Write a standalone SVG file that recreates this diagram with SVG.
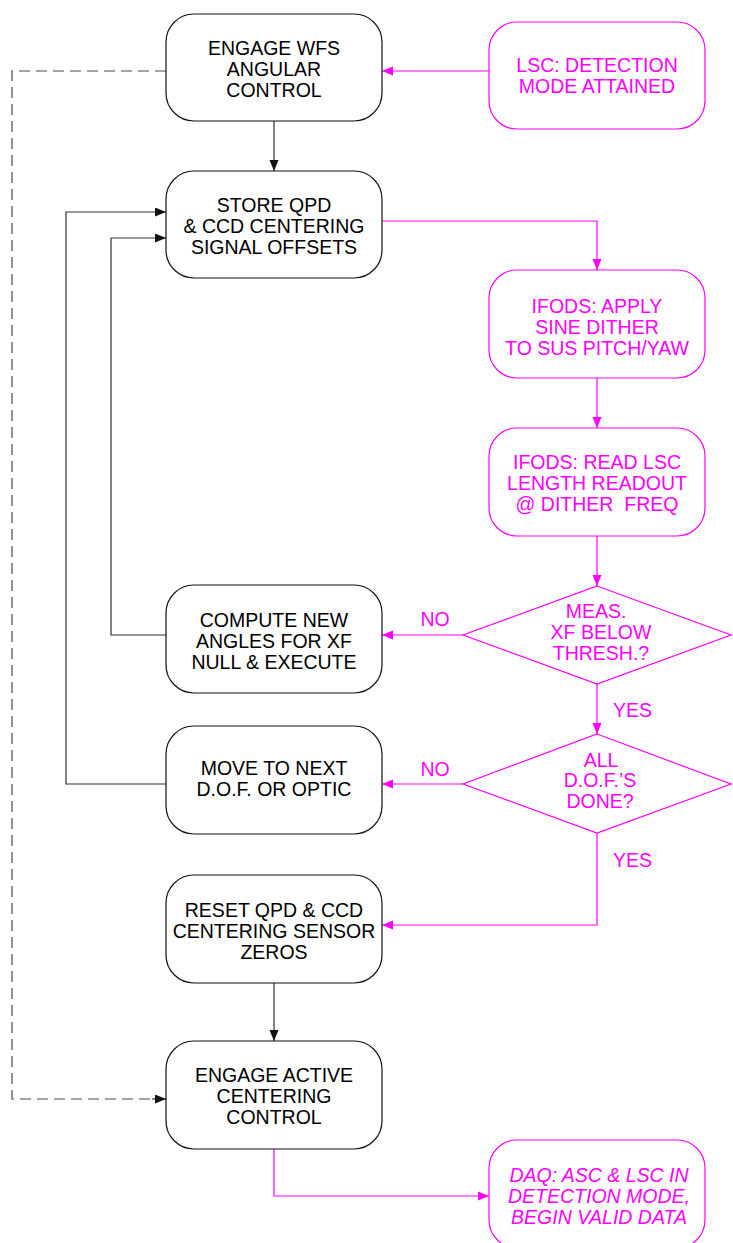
<svg xmlns="http://www.w3.org/2000/svg" width="733" height="1243" viewBox="0 0 733 1243">
  <defs>
    <style>
      .box { fill: #fff; stroke: #111; stroke-width: 1.2; }
      .mbox { fill: #fff; stroke: #ff00ff; stroke-width: 1.2; }
      .dia { fill: #fff; stroke: #ff00ff; stroke-width: 1.2; }
      .t { font-family: "Liberation Sans", Arial, sans-serif; font-size: 19.5px; fill: #000; text-anchor: middle; }
      .m { font-family: "Liberation Sans", Arial, sans-serif; font-size: 19.5px; fill: #ff00ff; text-anchor: middle; }
      .mi { font-style: italic; }
      .ln { fill: none; stroke: #333; stroke-width: 1.2; }
      .mln { fill: none; stroke: #ff00ff; stroke-width: 1.2; }
      .dln { fill: none; stroke: #4a4a4a; stroke-width: 1.2; stroke-dasharray: 11 6; }
    </style>
    <marker id="ah-k" markerUnits="userSpaceOnUse" markerWidth="12" markerHeight="10" refX="11" refY="4.5" orient="auto">
      <path d="M0,0 L11,4.5 L0,9 z" fill="#111"/>
    </marker>
    <marker id="ah-m" markerUnits="userSpaceOnUse" markerWidth="12" markerHeight="10" refX="11" refY="4.5" orient="auto">
      <path d="M0,0 L11,4.5 L0,9 z" fill="#ff00ff"/>
    </marker>
  </defs>

  <!-- connectors -->
  <g id="connectors">
    <path class="dln" d="M166,71 H12 V1099 H152"/>
    <path class="ln" d="M152,1099 H166" marker-end="url(#ah-k)"/>
    <path class="ln" d="M274,121 V171" marker-end="url(#ah-k)"/>
    <path class="mln" d="M489,71 H382" marker-end="url(#ah-m)"/>
    <path class="mln" d="M382,221 H597 V270" marker-end="url(#ah-m)"/>
    <path class="mln" d="M597,378 V428" marker-end="url(#ah-m)"/>
    <path class="mln" d="M597,536 V586" marker-end="url(#ah-m)"/>
    <path class="mln" d="M463,635 H382" marker-end="url(#ah-m)"/>
    <path class="mln" d="M597,684 V734" marker-end="url(#ah-m)"/>
    <path class="mln" d="M463,784 H382" marker-end="url(#ah-m)"/>
    <path class="mln" d="M597,833 V925 H382" marker-end="url(#ah-m)"/>
    <path class="ln" d="M274,983 V1041" marker-end="url(#ah-k)"/>
    <path class="mln" d="M274,1149 V1196 H489" marker-end="url(#ah-m)"/>
    <path class="ln" d="M166,635 H111 V238 H166" marker-end="url(#ah-k)"/>
    <path class="ln" d="M166,784 H66 V212 H166" marker-end="url(#ah-k)"/>
    <text class="m" x="435" y="626">NO</text>
    <text class="m" x="435" y="776">NO</text>
    <text class="m" x="613" y="717" style="text-anchor:start">YES</text>
    <text class="m" x="613" y="867" style="text-anchor:start">YES</text>
  </g>

  <g id="engage-wfs">
    <rect class="box" x="166" y="14" width="216" height="107" rx="28"/>
    <text class="t" x="274" y="55">ENGAGE WFS</text>
    <text class="t" x="274" y="76">ANGULAR</text>
    <text class="t" x="274" y="97">CONTROL</text>
  </g>

  <g id="lsc-detection">
    <rect class="mbox" x="489" y="22" width="216" height="107" rx="28"/>
    <text class="m" x="597" y="72">LSC: DETECTION</text>
    <text class="m" x="597" y="93">MODE ATTAINED</text>
  </g>

  <g id="store-offsets">
    <rect class="box" x="166" y="171" width="216" height="107" rx="28"/>
    <text class="t" x="274" y="212">STORE QPD</text>
    <text class="t" x="274" y="233">&amp; CCD CENTERING</text>
    <text class="t" x="274" y="254">SIGNAL OFFSETS</text>
  </g>

  <g id="ifods-dither">
    <rect class="mbox" x="489" y="270" width="216" height="108" rx="28"/>
    <text class="m" x="597" y="313">IFODS: APPLY</text>
    <text class="m" x="597" y="334">SINE DITHER</text>
    <text class="m" x="597" y="355">TO SUS PITCH/YAW</text>
  </g>

  <g id="ifods-read">
    <rect class="mbox" x="489" y="428" width="216" height="108" rx="28"/>
    <text class="m" x="597" y="469">IFODS: READ LSC</text>
    <text class="m" x="597" y="490">LENGTH READOUT</text>
    <text class="m" x="597" y="511">@ DITHER&#160; FREQ</text>
  </g>

  <g id="xf-threshold">
    <polygon class="dia" points="597,586 731,635 597,684 463,635"/>
    <text class="m" x="596" y="618">MEAS.</text>
    <text class="m" x="601" y="639">XF BELOW</text>
    <text class="m" x="601" y="660">THRESH.?</text>
  </g>

  <g id="compute-angles">
    <rect class="box" x="166" y="585" width="216" height="108" rx="28"/>
    <text class="t" x="274" y="627">COMPUTE NEW</text>
    <text class="t" x="274" y="648">ANGLES FOR XF</text>
    <text class="t" x="274" y="669">NULL &amp; EXECUTE</text>
  </g>

  <g id="dof-done">
    <polygon class="dia" points="597,734 731,784 597,833 463,784"/>
    <text class="m" x="601" y="767">ALL</text>
    <text class="m" x="600" y="787">D.O.F.’S</text>
    <text class="m" x="600" y="808">DONE?</text>
  </g>

  <g id="next-dof">
    <rect class="box" x="166" y="726" width="216" height="108" rx="28"/>
    <text class="t" x="274" y="775">MOVE TO NEXT</text>
    <text class="t" x="274" y="796">D.O.F. OR OPTIC</text>
  </g>

  <g id="reset-zeros">
    <rect class="box" x="166" y="875" width="216" height="108" rx="28"/>
    <text class="t" x="274" y="917">RESET QPD &amp; CCD</text>
    <text class="t" x="274" y="938">CENTERING SENSOR</text>
    <text class="t" x="274" y="959">ZEROS</text>
  </g>

  <g id="engage-centering">
    <rect class="box" x="166" y="1041" width="216" height="108" rx="28"/>
    <text class="t" x="274" y="1082">ENGAGE ACTIVE</text>
    <text class="t" x="274" y="1103">CENTERING</text>
    <text class="t" x="274" y="1124">CONTROL</text>
  </g>

  <g id="daq-valid">
    <rect class="mbox" x="489" y="1140" width="216" height="108" rx="28"/>
    <text class="m mi" x="599" y="1182">DAQ: ASC &amp; LSC IN</text>
    <text class="m mi" x="599" y="1203">DETECTION MODE,</text>
    <text class="m mi" x="599" y="1224">BEGIN VALID DATA</text>
  </g>
</svg>
